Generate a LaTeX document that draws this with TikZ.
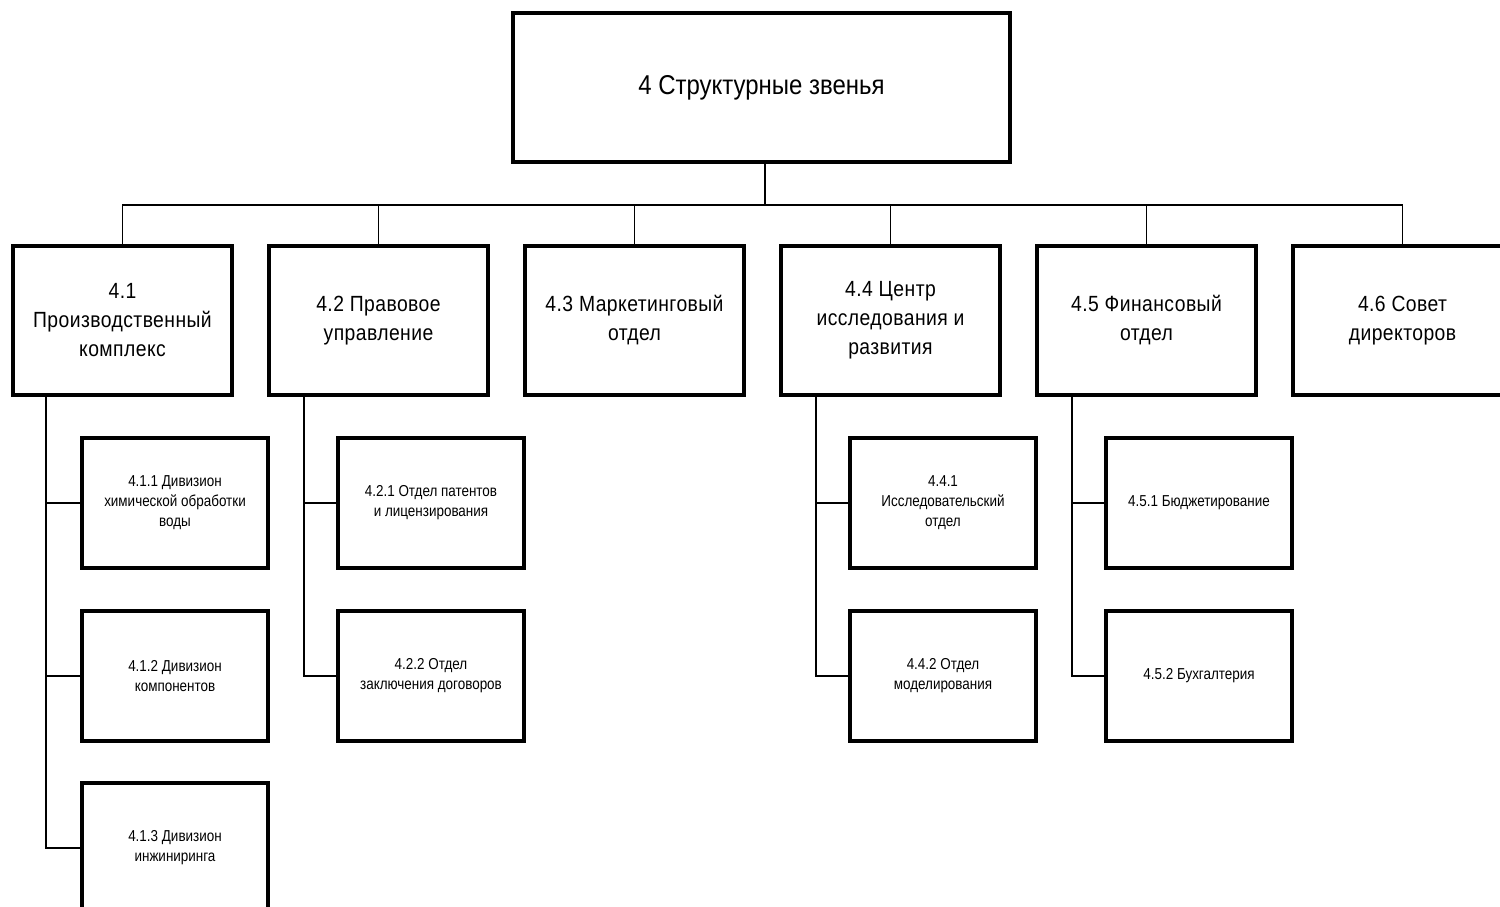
\documentclass[tikz,border=0pt]{standalone}
\usepackage{fontspec}
\newfontfamily\titlefont[FakeStretch=0.88]{Liberation Sans}
\newfontfamily\unitfont[FakeStretch=0.88,LetterSpace=2]{Liberation Sans}
\newfontfamily\subfont[FakeStretch=0.85]{Liberation Sans}
\usetikzlibrary{positioning}

\tikzset{
  unit/.style={draw,line width=2pt,minimum width=4.38cm,minimum height=2.98cm,align=center,
    font=\unitfont\fontsize{12.5}{16.5}\selectfont},
  subunit/.style={draw,line width=2pt,minimum width=3.72cm,minimum height=2.6cm,align=center,
    font=\subfont\fontsize{9}{11.4}\selectfont},
  link/.style={line width=0.9pt}
}

\begin{document}
\begin{tikzpicture}
\clip (0,0) rectangle (30,-18.14);
\fill[white] (0,0) rectangle (30,-18.14);

\node[draw,line width=2pt,minimum width=9.94cm,minimum height=2.98cm,font=\titlefont\fontsize{15.5}{18}\selectfont] (top) at (15.23,-1.75) {4 Структурные звенья};

\node[unit] (u1) at (2.45,-6.41) {4.1\\Производственный\\комплекс};
\node[unit] (u2) at (7.57,-6.41) {4.2 Правовое\\управление};
\node[unit] (u3) at (12.69,-6.41) {4.3 Маркетинговый\\отдел};
\node[unit] (u4) at (17.81,-6.41) {4.4 Центр\\исследования и\\развития};
\node[unit] (u5) at (22.93,-6.41) {4.5 Финансовый\\отдел};
\node[unit] (u6) at (28.05,-6.41) {4.6 Совет\\директоров};

\node[subunit] (s11) at (3.50,-10.06) {4.1.1 Дивизион\\химической обработки\\воды};
\node[subunit] (s12) at (3.50,-13.52) {4.1.2 Дивизион\\компонентов};
\node[subunit] (s13) at (3.50,-16.96) {4.1.3 Дивизион\\инжиниринга};
\node[subunit] (s21) at (8.62,-10.06) {4.2.1 Отдел патентов\\и лицензирования};
\node[subunit] (s22) at (8.62,-13.52) {4.2.2 Отдел\\заключения договоров};
\node[subunit] (s41) at (18.86,-10.06) {4.4.1\\Исследовательский\\отдел};
\node[subunit] (s42) at (18.86,-13.52) {4.4.2 Отдел\\моделирования};
\node[subunit] (s51) at (23.98,-10.06) {4.5.1 Бюджетирование};
\node[subunit] (s52) at (23.98,-13.52) {4.5.2 Бухгалтерия};

% bus under the top box
\coordinate (bus) at (0,-4.10);
\coordinate (tb) at ([xshift=0.07cm]top.south);
\draw[link] (tb) -- (tb |- bus);
\draw[link] (u1.north) -- (u1.north |- bus) -- (u6.north |- bus) -- (u6.north);
\draw[link] (u2.north) -- (u2.north |- bus);
\draw[link] (u3.north) -- (u3.north |- bus);
\draw[link] (u4.north) -- (u4.north |- bus);
\draw[link] (u5.north) -- (u5.north |- bus);

% trunks to the sub-units
\coordinate (t1) at ([xshift=0.70cm]u1.south west);
\coordinate (t2) at ([xshift=0.74cm]u2.south west);
\coordinate (t4) at ([xshift=0.74cm]u4.south west);
\coordinate (t5) at ([xshift=0.74cm]u5.south west);

\draw[link] (t1) |- (s13.west);
\draw[link] (s11.west) -- (s11.west -| t1);
\draw[link] (s12.west) -- (s12.west -| t1);
\draw[link] (t2) |- (s22.west);
\draw[link] (s21.west) -- (s21.west -| t2);
\draw[link] (t4) |- (s42.west);
\draw[link] (s41.west) -- (s41.west -| t4);
\draw[link] (t5) |- (s52.west);
\draw[link] (s51.west) -- (s51.west -| t5);

\end{tikzpicture}
\end{document}
